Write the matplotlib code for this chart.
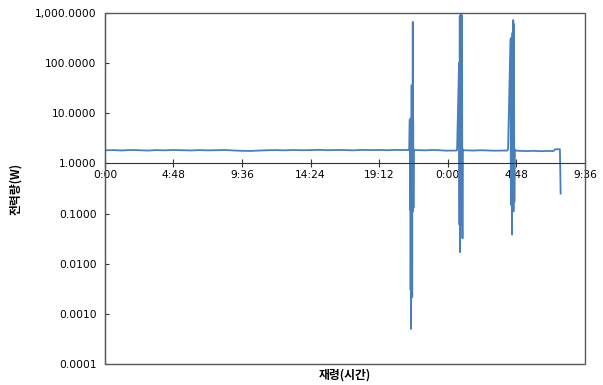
"""Power draw over curing age (log scale), Excel-style line chart."""
import matplotlib
matplotlib.use("Agg")
import matplotlib.pyplot as plt
from matplotlib.patches import Rectangle
from matplotlib.ticker import FixedLocator, NullLocator

LINE = "#4a7ebb"
FRAME = "#595959"

# baseline, 0 h .. 21 h
base_a_h = [0.0, 0.6, 1.2, 1.8, 2.4, 3.0, 3.6, 4.2, 4.8, 5.4, 6.0, 6.6,
            7.2, 7.8, 8.4, 9.0, 9.6, 10.2, 10.8, 11.4, 12.0, 12.6, 13.2, 13.8,
            14.4, 15.0, 15.6, 16.2, 16.8, 17.4, 18.0, 18.6, 19.2, 19.8, 20.4, 21.0]
base_a_w = [1.82, 1.84, 1.81, 1.85, 1.83, 1.80, 1.84, 1.82, 1.85, 1.83, 1.81, 1.84,
            1.82, 1.83, 1.85, 1.81, 1.78, 1.77, 1.80, 1.83, 1.84, 1.82, 1.85, 1.83,
            1.84, 1.86, 1.83, 1.85, 1.84, 1.82, 1.86, 1.84, 1.85, 1.83, 1.86, 1.84]

spike1_h = [21.30, 21.34, 21.36, 21.38, 21.40, 21.42, 21.43, 21.44, 21.46, 21.47, 21.48,
            21.50, 21.51, 21.52, 21.54, 21.55, 21.56, 21.58, 21.60, 21.62, 21.65]
spike1_w = [1.85, 7.5, 0.12, 6.8, 0.0030, 5.0, 0.0005, 8.0, 0.0021, 36.0, 0.10,
            7.0, 0.0022, 6.5, 0.15, 660.0, 0.11, 7.2, 0.13, 1.9, 1.83]

base_b_h = [21.9, 22.4, 22.9, 23.4, 23.9, 24.2]
base_b_w = [1.84, 1.82, 1.85, 1.83, 1.79, 1.80]

spike2_h = [24.62, 24.65, 24.79, 24.82, 24.84, 24.86, 24.88, 24.90, 24.92, 24.94,
            24.96, 24.98, 25.00, 25.02, 25.03, 25.05, 25.08]
spike2_w = [1.80, 1.85, 100.0, 0.06, 850.0, 0.017, 900.0, 0.07, 880.0, 0.06,
            920.0, 0.065, 850.0, 0.08, 0.032, 1.9, 1.83]

base_c_h = [25.3, 25.8, 26.3, 26.8, 27.3, 27.8]
base_c_w = [1.82, 1.80, 1.83, 1.81, 1.79, 1.80]

spike3_h = [28.15, 28.22, 28.39, 28.42, 28.45, 28.48, 28.50, 28.53, 28.55, 28.58,
            28.60, 28.63, 28.66, 28.69, 28.72]
spike3_w = [1.80, 1.9, 300.0, 0.15, 320.0, 0.16, 0.038, 400.0, 0.12, 720.0,
            0.11, 600.0, 0.17, 1.9, 1.80]

base_d_h = [29.0, 29.5, 30.0, 30.5, 31.0, 31.4, 31.5, 31.85, 31.9]
base_d_w = [1.78, 1.76, 1.78, 1.75, 1.77, 1.76, 1.90, 1.92, 0.25]

x_ticks = [0.0, 4.8, 9.6, 14.4, 19.2, 24.0, 28.8, 33.6]
x_tick_labels = ["0:00", "4:48", "9:36", "14:24", "19:12", "0:00", "4:48", "9:36"]
y_ticks = [0.0001, 0.001, 0.01, 0.1, 1, 10, 100, 1000]

hours = base_a_h + spike1_h + base_b_h + spike2_h + base_c_h + spike3_h + base_d_h
watts = base_a_w + spike1_w + base_b_w + spike2_w + base_c_w + spike3_w + base_d_w

plt.rcParams["font.family"] = ["DejaVu Sans"]
fig = plt.figure(figsize=(6.03, 3.85), dpi=100)
ax = fig.add_axes([0.174, 0.0545, 0.796, 0.912])

ax.plot(hours, watts, color=LINE, lw=1.3)
ax.set_yscale("log")
ax.set_ylim(1e-4, 1e3)
ax.set_xlim(0, 33.6)

ax.yaxis.set_major_locator(FixedLocator(y_ticks))
ax.yaxis.set_minor_locator(NullLocator())
ax.set_yticklabels([f"{v:,.4f}" for v in y_ticks])
ax.tick_params(axis="y", direction="in", length=3, width=0.8, labelsize=7.7,
               colors="#333333", labelcolor="black", pad=6)

# the category axis crosses the value axis at 1.0
ax.spines["bottom"].set_position(("data", 1.0))
ax.set_xticks(x_ticks)
ax.set_xticklabels(x_tick_labels)
ax.tick_params(axis="x", direction="inout", length=6, width=0.8, labelsize=7.7,
               colors="#333333", labelcolor="black", pad=2)
ax.spines["bottom"].set_color("#333333")
ax.spines["left"].set_color("#333333")
for s in ("top", "right"):
    ax.spines[s].set_visible(False)
# plot-area border
ax.add_patch(Rectangle((0, 0), 1, 1, transform=ax.transAxes, fill=False,
                       ec=FRAME, lw=1.0, clip_on=False, zorder=3))

kfont = ["Noto Sans CJK KR", "DejaVu Sans"]
ax.set_xlabel("재령(시간)", family=kfont, fontsize=8.5, fontweight="bold")
ax.xaxis.set_label_coords(0.5, -0.012)
ax.set_ylabel("전력량(W)", family=kfont, fontsize=8.5, fontweight="bold")
ax.yaxis.set_label_coords(-0.172, 0.5)

fig.savefig("out.png", dpi=100)
